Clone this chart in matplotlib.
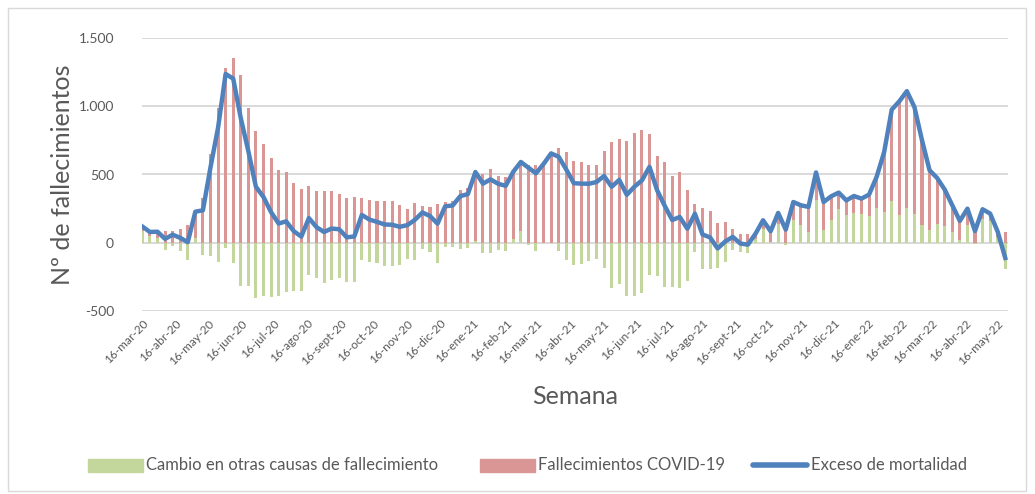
import matplotlib
matplotlib.use("Agg")
import matplotlib.pyplot as plt
import matplotlib.dates as mdates
import matplotlib.patches as mpatches
from matplotlib.lines import Line2D
from matplotlib.ticker import FuncFormatter, FixedLocator
import numpy as np
import pandas as pd

plt.rcParams['font.family'] = ['Lato', 'DejaVu Sans']

# ---- data ----
start_date = "2020-03-16"
n_weeks = 115

otras_causas = [88, 45, 32, -55, -28, -62, -125, 32, -88, -98,
                -142, -42, -152, -315, -318, -408, -392, -400, -393, -365,
                -355, -353, -238, -262, -298, -277, -262, -291, -291, -128,
                -142, -150, -172, -172, -162, -120, -125, -46, -68, -147,
                -32, -32, -44, -42, 10, -73, -73, -56, -63, 30,
                83, -20, -61, -5, -5, -62, -128, -162, -157, -138,
                -123, -185, -331, -303, -395, -395, -370, -240, -248, -324,
                -326, -330, -284, -68, -196, -196, -185, -142, -56, -68,
                -75, 30, 98, 5, 139, -20, 164, 127, 78, 310,
                95, 169, 249, 200, 220, 213, 193, 257, 225, 303,
                200, 257, 213, 127, 95, 139, 120, 78, 22, 127,
                -10, 176, 159, 40, -191]

covid = [30, 33, 48, 82, 86, 97, 128, 195, 325, 650,
         985, 1280, 1356, 1230, 990, 818, 727, 624, 533, 521,
         439, 397, 418, 376, 376, 380, 360, 330, 336, 331,
         311, 302, 305, 303, 278, 248, 292, 267, 263, 286,
         298, 305, 385, 398, 508, 506, 537, 488, 480, 490,
         509, 570, 570, 582, 660, 692, 665, 598, 590, 570,
         568, 674, 741, 763, 746, 805, 827, 796, 633, 595,
         492, 518, 386, 280, 256, 234, 142, 150, 98, 61,
         60, 35, 66, 78, 79, 115, 134, 147, 184, 205,
         203, 171, 118, 110, 122, 110, 159, 225, 440, 673,
         837, 855, 782, 624, 436, 335, 269, 196, 137, 122,
         95, 69, 54, 40, 78]

tick_labels = ["16-mar-20", "16-abr-20", "16-may-20", "16-jun-20", "16-jul-20",
               "16-ago-20", "16-sept-20", "16-oct-20", "16-nov-20", "16-dic-20",
               "16-ene-21", "16-feb-21", "16-mar-21", "16-abr-21", "16-may-21",
               "16-jun-21", "16-jul-21", "16-ago-21", "16-sept-21", "16-oct-21",
               "16-nov-21", "16-dic-21", "16-ene-22", "16-feb-22", "16-mar-22",
               "16-abr-22", "16-may-22"]

series_names = ["Cambio en otras causas de fallecimiento",
                "Fallecimientos COVID-19",
                "Exceso de mortalidad"]

# ---- derived ----
dates = pd.date_range(start_date, periods=n_weeks, freq="7D")
otras = np.array(otras_causas, dtype=float)
cov = np.array(covid, dtype=float)
exceso = otras + cov
red_bottom = np.where(otras > 0, otras, 0)
tick_dates = pd.date_range("2020-03-01", periods=len(tick_labels), freq="MS") + pd.Timedelta(days=15)

GREEN = "#c3d69b"
RED = "#d99694"
BLUE = "#4f81bd"
GRAY_TXT = "#595959"
GRID = "#d9d9d9"

W, H = 1035, 494
fig = plt.figure(figsize=(W / 100, H / 100), dpi=100)
ax = fig.add_axes([141.7 / W, 1 - 310.7 / H, (1008.3 - 141.7) / W, (310.7 - 38.3) / H])

xnum = mdates.date2num(dates)
bw = 2.8
ax.bar(xnum, otras, width=bw, color=GREEN, zorder=2, linewidth=0)
ax.bar(xnum, cov, width=bw, bottom=red_bottom, color=RED, zorder=2, linewidth=0)
ax.plot(xnum, exceso, color=BLUE, linewidth=3.2, zorder=3, solid_joinstyle='round')

ax.set_ylim(-500, 1500)
ax.set_yticks([-500, 0, 500, 1000, 1500])
ax.yaxis.set_major_formatter(FuncFormatter(lambda v, p: f"{int(v):,}".replace(",", ".")))
ax.set_xlim(xnum[0] - 0.6, xnum[-1] + 2.8)
ax.xaxis.set_major_locator(FixedLocator(mdates.date2num(tick_dates)))
ax.set_xticklabels(tick_labels, rotation=45, ha='right', va='top', rotation_mode='anchor',
                   fontsize=8.6, color=GRAY_TXT)
ax.tick_params(axis='x', length=0, pad=5)
ax.tick_params(axis='y', length=0, pad=20, labelsize=10, labelcolor=GRAY_TXT)

ax.grid(axis='y', color=GRID, linewidth=1.4, zorder=0)
ax.set_axisbelow(True)
for s in ax.spines.values():
    s.set_visible(False)

fig.text(62 / W, 1 - 175 / H, "Nº de fallecimientos", rotation=90, ha='center', va='center',
         fontsize=18, color=GRAY_TXT)
fig.text(575 / W, 1 - 397 / H, "Semana", ha='center', va='center', fontsize=18, color=GRAY_TXT)

# ---- legend (manual, Excel-like) ----
leg_y = 465
fs_leg = 12.0
fig.patches.append(mpatches.Rectangle((88 / W, 1 - (leg_y + 6.5) / H), 55 / W, 13 / H,
                                      transform=fig.transFigure, color=GREEN))
fig.text(146 / W, 1 - leg_y / H, series_names[0], ha='left', va='center', fontsize=fs_leg, color=GRAY_TXT)
fig.patches.append(mpatches.Rectangle((480 / W, 1 - (leg_y + 6.5) / H), 55 / W, 13 / H,
                                      transform=fig.transFigure, color=RED))
fig.text(538 / W, 1 - leg_y / H, series_names[1], ha='left', va='center', fontsize=fs_leg, color=GRAY_TXT)
fig.lines.append(Line2D([753 / W, 807 / W], [1 - leg_y / H, 1 - leg_y / H], transform=fig.transFigure,
                        color=BLUE, linewidth=4, solid_capstyle='round'))
fig.text(811 / W, 1 - leg_y / H, series_names[2], ha='left', va='center', fontsize=fs_leg, color=GRAY_TXT)

border = mpatches.Rectangle((8 / W, 1 - 491 / H), (1026 - 8) / W, (491 - 8) / H,
                            transform=fig.transFigure, fill=False, edgecolor=GRID, linewidth=1)
fig.patches.append(border)

fig.savefig("out.png", dpi=100)
